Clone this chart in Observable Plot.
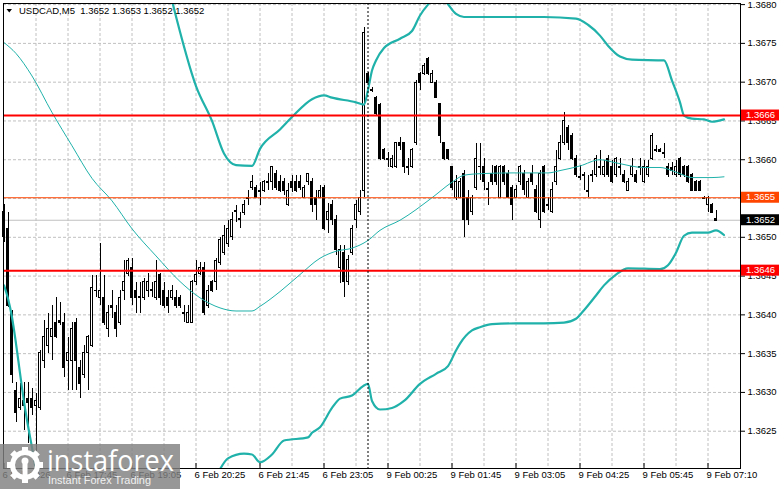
<!DOCTYPE html>
<html><head><meta charset="utf-8">
<script src="https://cdn.jsdelivr.net/npm/d3@7"></script>
<script src="https://cdn.jsdelivr.net/npm/@observablehq/plot@0.6"></script>
<style>
body{margin:0;background:#fff;}
#chart svg{display:block;}
</style>
</head><body><div id="chart"></div>
<script>
// ---- Candles (USDCAD M5), bar index 0..178 ----
const opens = [1.36532,1.36511,1.36402,1.36302,1.36280,1.36289,1.36292,1.36292,1.36283,1.36280,
1.36341,1.36360,1.36371,1.36390,1.36392,1.36390,1.36341,1.36341,1.36390,1.36332,
1.36322,1.36351,1.36360,1.36431,1.36422,1.36422,1.36382,1.36412,1.36402,1.36390,
1.36431,1.36453,1.36461,1.36431,1.36422,1.36422,1.36431,1.36431,1.36422,1.36451,
1.36431,1.36422,1.36422,1.36422,1.36422,1.36402,1.36390,1.36390,1.36442,1.36453,
1.36461,1.36412,1.36442,1.36442,1.36467,1.36480,1.36492,1.36500,1.36532,1.36524,
1.36531,1.36551,1.36563,1.36563,1.36560,1.36560,1.36571,1.36571,1.36582,1.36571,
1.36571,1.36541,1.36571,1.36571,1.36571,1.36551,1.36571,1.36571,1.36551,1.36551,
1.36563,1.36522,1.36541,1.36522,1.36461,1.36480,1.36442,1.36480,1.36522,1.36532,
1.36560,1.36711,1.36690,1.36680,1.36670,1.36612,1.36601,1.36590,1.36590,1.36621,
1.36621,1.36590,1.36590,1.36621,1.36711,1.36711,1.36730,1.36699,1.36699,1.36672,
1.36621,1.36612,1.36590,1.36551,1.36551,1.36582,1.36551,1.36532,1.36563,1.36590,
1.36590,1.36561,1.36582,1.36590,1.36551,1.36590,1.36582,1.36563,1.36551,1.36571,
1.36582,1.36551,1.36582,1.36561,1.36522,1.36590,1.36541,1.36532,1.36571,1.36601,
1.36621,1.36641,1.36631,1.36601,1.36578,1.36580,1.36560,1.36580,1.36580,1.36590,
1.36580,1.36601,1.36590,1.36580,1.36590,1.36580,1.36560,1.36580,1.36580,1.36590,
1.36571,1.36580,1.36601,1.36612,1.36612,1.36609,1.36590,1.36589,1.36580,1.36601,
1.36590,1.36590,1.36580,1.36571,1.36571,1.36551,1.36541,1.36541,1.36524];
const highs = [1.36542,1.36532,1.36406,1.36313,1.36311,1.36313,1.36313,1.36305,1.36298,1.36354,
1.36393,1.36402,1.36412,1.36422,1.36416,1.36402,1.36371,1.36390,1.36395,1.36341,
1.36360,1.36373,1.36451,1.36451,1.36492,1.36451,1.36412,1.36431,1.36412,1.36431,
1.36470,1.36473,1.36473,1.36442,1.36442,1.36447,1.36453,1.36442,1.36470,1.36453,
1.36442,1.36431,1.36438,1.36431,1.36425,1.36412,1.36412,1.36444,1.36470,1.36467,
1.36467,1.36438,1.36444,1.36473,1.36500,1.36515,1.36522,1.36532,1.36541,1.36532,
1.36547,1.36560,1.36580,1.36567,1.36571,1.36573,1.36582,1.36591,1.36586,1.36580,
1.36576,1.36569,1.36580,1.36580,1.36580,1.36567,1.36582,1.36576,1.36560,1.36567,
1.36567,1.36543,1.36547,1.36528,1.36489,1.36489,1.36476,1.36515,1.36547,1.36560,
1.36770,1.36712,1.36693,1.36681,1.36672,1.36614,1.36609,1.36605,1.36622,1.36629,
1.36622,1.36601,1.36614,1.36702,1.36712,1.36724,1.36732,1.36715,1.36702,1.36673,
1.36622,1.36613,1.36591,1.36580,1.36576,1.36586,1.36560,1.36554,1.36621,1.36621,
1.36601,1.36571,1.36592,1.36592,1.36592,1.36592,1.36586,1.36567,1.36567,1.36592,
1.36586,1.36576,1.36592,1.36567,1.36586,1.36592,1.36551,1.36571,1.36612,1.36631,
1.36661,1.36644,1.36634,1.36605,1.36592,1.36583,1.36580,1.36586,1.36605,1.36612,
1.36599,1.36605,1.36599,1.36603,1.36601,1.36586,1.36576,1.36601,1.36586,1.36601,
1.36599,1.36599,1.36634,1.36618,1.36614,1.36621,1.36595,1.36596,1.36599,1.36603,
1.36592,1.36592,1.36582,1.36573,1.36573,1.36552,1.36552,1.36543,1.36534];
const lows = [1.36493,1.36409,1.36311,1.36261,1.36277,1.36251,1.36234,1.36270,1.36210,1.36277,
1.36331,1.36350,1.36341,1.36369,1.36386,1.36319,1.36302,1.36302,1.36302,1.36292,
1.36318,1.36302,1.36358,1.36422,1.36412,1.36386,1.36371,1.36395,1.36371,1.36386,
1.36418,1.36449,1.36412,1.36402,1.36402,1.36418,1.36422,1.36422,1.36418,1.36412,
1.36408,1.36402,1.36418,1.36408,1.36408,1.36390,1.36389,1.36389,1.36438,1.36451,
1.36399,1.36408,1.36429,1.36431,1.36464,1.36476,1.36487,1.36496,1.36519,1.36511,
1.36528,1.36541,1.36560,1.36550,1.36541,1.36558,1.36560,1.36560,1.36560,1.36558,
1.36554,1.36540,1.36558,1.36558,1.36560,1.36550,1.36567,1.36532,1.36522,1.36550,
1.36509,1.36505,1.36515,1.36476,1.36440,1.36422,1.36438,1.36476,1.36511,1.36528,
1.36551,1.36689,1.36687,1.36657,1.36599,1.36599,1.36590,1.36589,1.36589,1.36612,
1.36582,1.36580,1.36589,1.36618,1.36689,1.36708,1.36708,1.36698,1.36679,1.36621,
1.36599,1.36599,1.36560,1.36547,1.36550,1.36500,1.36515,1.36528,1.36560,1.36573,
1.36560,1.36541,1.36567,1.36567,1.36550,1.36567,1.36550,1.36522,1.36550,1.36567,
1.36554,1.36550,1.36567,1.36531,1.36511,1.36531,1.36534,1.36531,1.36567,1.36599,
1.36618,1.36612,1.36599,1.36577,1.36573,1.36560,1.36551,1.36571,1.36577,1.36580,
1.36577,1.36577,1.36569,1.36577,1.36580,1.36569,1.36559,1.36577,1.36569,1.36580,
1.36569,1.36577,1.36599,1.36609,1.36609,1.36601,1.36577,1.36580,1.36577,1.36577,
1.36577,1.36569,1.36560,1.36560,1.36560,1.36550,1.36532,1.36531,1.36520];
const closes = [1.36501,1.36412,1.36323,1.36273,1.36292,1.36283,1.36287,1.36280,1.36289,1.36351,
1.36371,1.36382,1.36382,1.36372,1.36390,1.36332,1.36351,1.36382,1.36341,1.36311,
1.36351,1.36371,1.36434,1.36431,1.36431,1.36390,1.36402,1.36409,1.36382,1.36422,
1.36442,1.36470,1.36422,1.36422,1.36423,1.36442,1.36442,1.36432,1.36442,1.36422,
1.36412,1.36412,1.36431,1.36412,1.36412,1.36401,1.36402,1.36442,1.36451,1.36461,
1.36402,1.36431,1.36431,1.36470,1.36496,1.36502,1.36511,1.36522,1.36534,1.36522,
1.36541,1.36550,1.36571,1.36551,1.36559,1.36571,1.36570,1.36590,1.36563,1.36560,
1.36560,1.36560,1.36563,1.36560,1.36563,1.36563,1.36582,1.36541,1.36541,1.36560,
1.36511,1.36532,1.36522,1.36483,1.36483,1.36442,1.36471,1.36511,1.36541,1.36551,
1.36763,1.36699,1.36689,1.36659,1.36601,1.36601,1.36600,1.36601,1.36621,1.36618,
1.36590,1.36589,1.36612,1.36699,1.36699,1.36721,1.36711,1.36711,1.36680,1.36631,
1.36601,1.36601,1.36563,1.36571,1.36571,1.36522,1.36522,1.36551,1.36601,1.36591,
1.36571,1.36562,1.36571,1.36571,1.36590,1.36571,1.36551,1.36541,1.36561,1.36590,
1.36561,1.36571,1.36571,1.36532,1.36582,1.36532,1.36540,1.36561,1.36590,1.36621,
1.36650,1.36621,1.36601,1.36580,1.36577,1.36579,1.36559,1.36579,1.36601,1.36589,
1.36590,1.36580,1.36571,1.36601,1.36589,1.36571,1.36571,1.36590,1.36571,1.36589,
1.36590,1.36590,1.36631,1.36611,1.36610,1.36608,1.36580,1.36586,1.36590,1.36580,
1.36580,1.36571,1.36560,1.36560,1.36560,1.36550,1.36551,1.36531,1.36521];

// ---- Bollinger bands, read at sampled bars ----
const upperBars = [42,48,52,55,58,62,64,69,72,77,80,82,88,90,91,92,93,95,99,102,104,106,108,110,113,115,125,135,143,146,149,151,154,157,165,167,169,170,172,175,177,180];
const upperVals = [1.36805,1.36695,1.36650,1.36608,1.36593,1.36592,1.36614,1.36639,1.36655,1.36678,1.36683,1.36680,1.36674,1.36671,1.36690,1.36715,1.36728,1.36744,1.36756,1.36766,1.36786,1.36800,1.36810,1.36806,1.36788,1.36784,1.36784,1.36784,1.36782,1.36774,1.36760,1.36747,1.36733,1.36729,1.36728,1.36702,1.36674,1.36657,1.36653,1.36652,1.36649,1.36652];
const lowerBarsA = [0,1,2,3,4,5,6,7,8,9];
const lowerValsA = [1.36438,1.36421,1.36397,1.36363,1.36325,1.36288,1.36257,1.36229,1.36199,1.36170];
const lowerBarsB = [54,56,60,62,64,67,70,76,77,79,82,84,87,89,90,91,92,94,97,100,104,108,111,113,114,117,119,122,128,135,140,143,145,148,150,153,156,164,166,168,170,172,176,178,180];
const lowerValsB = [1.36201,1.36215,1.36221,1.36220,1.36210,1.36220,1.36238,1.36242,1.36248,1.36255,1.36280,1.36292,1.36296,1.36305,1.36309,1.36311,1.36289,1.36278,1.36280,1.36289,1.36311,1.36324,1.36334,1.36354,1.36363,1.36380,1.36384,1.36388,1.36389,1.36389,1.36390,1.36395,1.36406,1.36425,1.36438,1.36452,1.36460,1.36459,1.36464,1.36480,1.36502,1.36506,1.36506,1.36509,1.36503];
const middleBars = [0,3,7,12,17,22,27,32,38,44,49,54,58,62,64,69,74,79,83,87,91,94,99,107,112,115,119,127,136,139,144,149,153,160,164,167,169,172,177,180];
const middleVals = [1.36751,1.36737,1.36708,1.36661,1.36618,1.36576,1.36547,1.36511,1.36476,1.36443,1.36422,1.36409,1.36405,1.36405,1.36411,1.36430,1.36452,1.36473,1.36482,1.36486,1.36496,1.36509,1.36522,1.36551,1.36571,1.36580,1.36582,1.36583,1.36583,1.36586,1.36592,1.36600,1.36596,1.36590,1.36590,1.36586,1.36582,1.36577,1.36577,1.36578];

// ---- Levels ----
const redLevels = [1.36657, 1.36457];
const orangeLevels = [1.36551];
const bidLevels = [1.36522];
const separatorBars = [91];

// ---- Axis ticks ----
const yTicks = [1.3625,1.3630,1.3635,1.3640,1.3645,1.3650,1.3655,1.3660,1.3665,1.3670,1.3675,1.3680];
const xTickBars = [0,16,32,48,64,80,96,112,128,144,160,176];
const xTickLabels = ["6 Feb 2026","6 Feb 17:45","6 Feb 19:05","6 Feb 20:25","6 Feb 21:45","6 Feb 23:05","9 Feb 00:25","9 Feb 01:45","9 Feb 03:05","9 Feb 04:25","9 Feb 05:45","9 Feb 07:10"];
const titleText = "USDCAD,M5  1.3652 1.3653 1.3652 1.3652";

// ---- build ----
const bars = opens.map((o, i) => ({i, o, h: highs[i], l: lows[i], c: closes[i]}));
const bull = bars.filter(d => d.c > d.o);
const bear = bars.filter(d => d.c < d.o);
const doji = bars.filter(d => d.c === d.o);
const pts = (bs, vs) => bs.map((b, k) => ({b, v: vs[k]}));
const xTicks = xTickBars.map((b, k) => ({b, label: xTickLabels[k]}));
const vGrid = d3.range(8, 184, 8);
const teal = "#20b2aa";
const grid = "#c0c0c0";

const plot = Plot.plot({
  width: 781, height: 489,
  marginLeft: 3, marginRight: 41, marginTop: 3, marginBottom: 21,
  x: {domain: [0, 184.25], range: [3.5, 740.5], axis: null},
  y: {domain: [1.3620, 1.3680], range: [469.5, 4.1], axis: null},
  style: {fontFamily: "'Liberation Sans', Arial, sans-serif", fontSize: "9.5px", color: "black", background: "white", overflow: "visible"},
  marks: [
    Plot.gridY(yTicks, {stroke: grid, strokeOpacity: 1, strokeDasharray: "3,2"}),
    Plot.ruleX(vGrid, {stroke: grid, strokeOpacity: 1, strokeDasharray: "3,2"}),
    Plot.ruleY(bidLevels, {stroke: "#c0c0c0", strokeWidth: 1}),
    Plot.ruleX(bars, {x: "i", y1: "l", y2: "h", stroke: "black", strokeWidth: 1, shapeRendering: "crispEdges"}),
    Plot.rect(bear, {x1: d => d.i - 0.3, x2: d => d.i + 0.3, y1: "o", y2: "c", fill: "black", stroke: "black", strokeWidth: 1, shapeRendering: "crispEdges"}),
    Plot.rect(bull, {x1: d => d.i - 0.3, x2: d => d.i + 0.3, y1: "o", y2: "c", fill: "white", stroke: "black", strokeWidth: 1, shapeRendering: "crispEdges"}),
    Plot.ruleY(doji, {y: "o", x1: d => d.i - 0.4, x2: d => d.i + 0.4, stroke: "black", strokeWidth: 1, shapeRendering: "crispEdges"}),
    Plot.line(pts(middleBars, middleVals), {x: "b", y: "v", stroke: teal, strokeWidth: 1, curve: "monotone-x", clip: true}),
    Plot.line(pts(upperBars, upperVals), {x: "b", y: "v", stroke: teal, strokeWidth: 2.2, curve: "monotone-x", clip: true}),
    Plot.line(pts(lowerBarsA, lowerValsA), {x: "b", y: "v", stroke: teal, strokeWidth: 2.2, curve: "monotone-x", clip: true}),
    Plot.line(pts(lowerBarsB, lowerValsB), {x: "b", y: "v", stroke: teal, strokeWidth: 2.2, curve: "monotone-x", clip: true}),
    Plot.ruleY(redLevels, {stroke: "#ff0000", strokeWidth: 2}),
    Plot.ruleY(orangeLevels, {stroke: "#ff4500", strokeWidth: 1}),
    Plot.ruleX(separatorBars, {stroke: "black", strokeWidth: 1, strokeDasharray: "2,2"}),
    Plot.frame({stroke: "black", strokeWidth: 1, shapeRendering: "crispEdges"}),
    Plot.axisY(yTicks, {anchor: "right", tickSize: 4, tickPadding: 3, tickFormat: d => d.toFixed(4), fill: "black", stroke: "black"}),
    Plot.ruleX(xTickBars, {stroke: "black", strokeWidth: 1, insetTop: 460}),
    Plot.text(xTicks, {x: "b", text: "label", frameAnchor: "bottom", textAnchor: "start", dx: -1.5, dy: 9.5, fill: "black"})
  ]
});
document.getElementById("chart").appendChild(plot);

// ---- overlays using the library's y scale ----
const svg = d3.select(plot);
const yScale = plot.scale("y");
const boxes = [
  ...redLevels.map(v => ({v, fill: "#ff0000"})),
  ...orangeLevels.map(v => ({v, fill: "#ff4500"})),
  ...bidLevels.map(v => ({v, fill: "#000000"}))
];
const gb = svg.append("g").attr("text-anchor", "start");
boxes.forEach(b => {
  const yy = yScale.apply(b.v);
  gb.append("rect").attr("x", 741).attr("y", yy - 5.5).attr("width", 38).attr("height", 11).attr("fill", b.fill);
  gb.append("text").attr("x", 746).attr("y", yy).attr("dy", "0.34em").attr("fill", "white")
    .attr("text-anchor", "start").style("font-size", "9.5px").text(b.v.toFixed(4));
});

// title
svg.append("path").attr("d", "M6.5,9 L12,9 L9.25,12.5 Z").attr("fill", "black");
svg.append("text").attr("x", 19).attr("y", 14).attr("fill", "black").attr("text-anchor", "start")
  .style("font-size", "9.5px").style("white-space", "pre").text(titleText);

// watermark
const wm = svg.append("g").attr("text-anchor", "start");
wm.append("rect").attr("x", 0).attr("y", 444).attr("width", 180).attr("height", 45).attr("fill", "#808080").attr("fill-opacity", 0.82);
const gear = wm.append("g").attr("transform", "translate(25,465)").attr("fill", "white");
for (let k = 0; k < 8; k++) {
  gear.append("rect").attr("x", -3).attr("y", -18).attr("width", 6).attr("height", 7).attr("transform", `rotate(${k * 45})`);
}
gear.append("circle").attr("r", 12.5).attr("fill", "none").attr("stroke", "white").attr("stroke-width", 5);
gear.append("circle").attr("cy", -4).attr("r", 3.5);
gear.append("rect").attr("x", -2.5).attr("y", -1).attr("width", 5).attr("height", 12);
wm.append("text").attr("x", 47).attr("y", 471).attr("fill", "white").attr("text-anchor", "start")
  .attr("textLength", 127).attr("lengthAdjust", "spacingAndGlyphs")
  .style("font-size", "30px").style("font-family", "'Open Sans', 'Liberation Sans', sans-serif").text("instaforex");
wm.append("text").attr("x", 48).attr("y", 484).attr("fill", "#f0f0f0").attr("text-anchor", "start")
  .attr("textLength", 103).attr("lengthAdjust", "spacingAndGlyphs")
  .style("font-size", "11px").text("Instant Forex Trading");
</script>
</body></html>
